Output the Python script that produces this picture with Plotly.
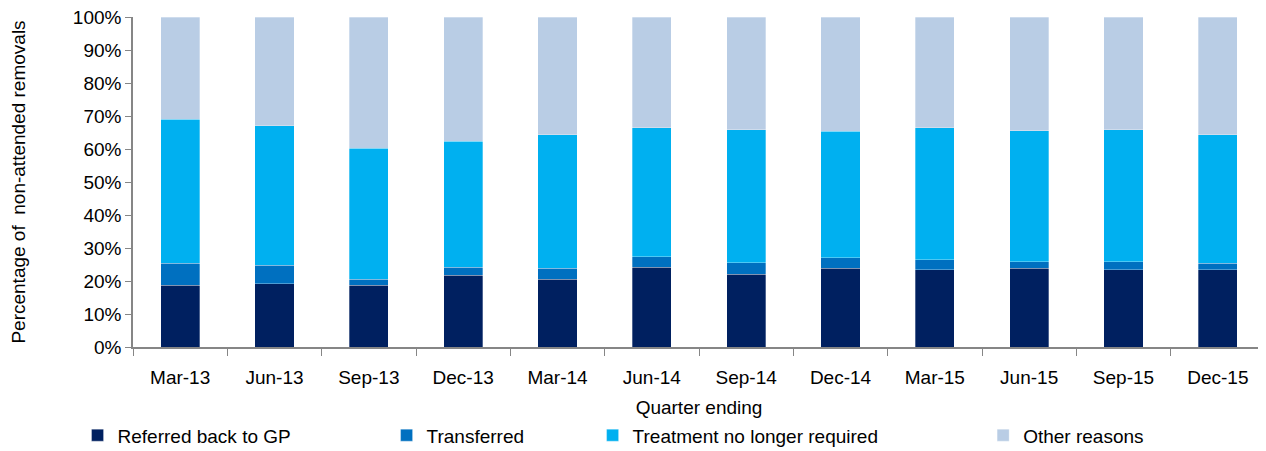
import plotly.graph_objects as go

quarters = ["Mar-13", "Jun-13", "Sep-13", "Dec-13", "Mar-14", "Jun-14",
            "Sep-14", "Dec-14", "Mar-15", "Jun-15", "Sep-15", "Dec-15"]

# shares of non-attended removals, percent
referred = [18.7, 19.1, 18.7, 21.8, 20.6, 24.2, 22.1, 23.8, 23.4, 23.8, 23.4, 23.4]
transferred = [6.7, 5.7, 1.9, 2.4, 3.2, 3.1, 3.4, 3.2, 3.1, 2.0, 2.4, 2.0]
treatment = [43.6, 42.2, 39.7, 38.1, 40.5, 39.1, 40.4, 38.4, 39.9, 39.7, 40.1, 38.9]
other = [31.0, 33.0, 39.7, 37.7, 35.7, 33.6, 34.1, 34.6, 33.6, 34.5, 34.1, 35.7]

series = [
    ("Referred back to GP", referred, "#002060", "legend", -0.049),
    ("Transferred", transferred, "#0070C0", "legend2", 0.224),
    ("Treatment no longer required", treatment, "#00B0F0", "legend3", 0.406),
    ("Other reasons", other, "#B9CDE5", "legend4", 0.751),
]

font = dict(family="Liberation Sans, Arial, sans-serif", size=19, color="#000000")

fig = go.Figure()
legend_layouts = {}
for name, vals, color, leg, lx in series:
    fig.add_trace(go.Bar(
        x=quarters, y=vals, name=name, legend=leg,
        marker=dict(color=color, line=dict(color="rgba(255,255,255,0.6)", width=0.5)),
    ))
    legend_layouts[leg] = dict(
        x=lx, y=-0.21, xref="paper", yref="paper", xanchor="left", yanchor="top",
        orientation="h", font=font, bgcolor="rgba(0,0,0,0)",
        itemwidth=30, tracegroupgap=0,
    )

# page body has an 8px margin, so the figure is sized/offset to land on the reference grid
fig.update_layout(
    barmode="stack",
    bargap=0.585,
    width=1258, height=443,
    margin=dict(l=125, r=1, t=9, b=104, autoexpand=False),
    paper_bgcolor="white", plot_bgcolor="white",
    font=font,
    showlegend=True,
    **legend_layouts,
)

fig.update_xaxes(
    title=dict(text="Quarter ending", font=font, standoff=14),
    showline=True, linecolor="#868686", linewidth=1.5,
    ticks="outside", tickson="boundaries", ticklen=7, tickcolor="#868686",
    ticklabelstandoff=12,
    showgrid=False, tickfont=font, automargin=False,
)
fig.update_yaxes(
    title=dict(text="Percentage of  non-attended removals", font=font, standoff=46),
    range=[0, 100], dtick=10, ticksuffix="%",
    showline=True, linecolor="#868686", linewidth=1.5,
    ticks="outside", ticklen=6, tickcolor="#868686",
    ticklabeloverflow="allow",
    showgrid=False, zeroline=False, tickfont=font, automargin=False,
)

fig.write_html("out.html")
